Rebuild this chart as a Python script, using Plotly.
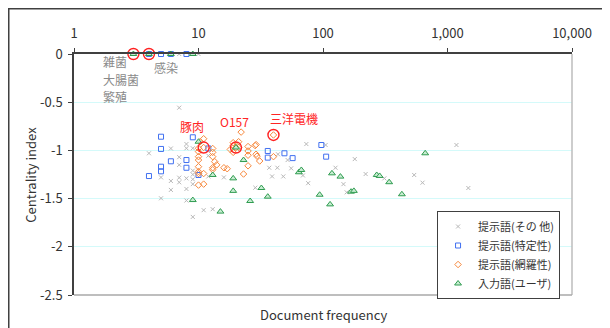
import math
import plotly.graph_objects as go

# ---- data ----
other_x = [7, 10, 7, 4, 6, 8, 8, 9, 7, 7, 6, 6, 7, 7, 8, 8, 9, 9, 9, 9, 5, 5, 8, 9, 11, 13,
           12, 12, 16, 37, 43, 39, 48, 28.6, 43.5, 52, 73.5, 105, 180, 55.5, 69, 76, 126,
           146, 155, 220, 311, 1180, 540, 630, 1470]
other_y = [0, 0, -0.557, -1.03, -0.98, -0.934, -0.978, -0.978, -1.07, -1.15, -1.317, -1.41,
           -1.283, -1.331, -1.29, -1.40, -1.25, -1.30, -1.21, -1.35, -1.28, -1.497, -1.52,
           -1.69, -1.62, -1.61, -1.055, -1.27, -1.28, -1.18, -1.18, -1.27, -1.27, -1.387,
           -1.04, -1.10, -0.934, -0.944, -1.09, -1.186, -1.26, -1.34, -1.18, -1.35, -1.435,
           -1.245, -1.29, -0.944, -1.255, -1.335, -1.39]

spec_x = [4, 5, 6, 8, 5, 9, 5, 6, 5, 5, 4, 8, 8, 10, 12, 36, 36, 49, 57, 97, 106]
spec_y = [0, 0, 0, 0, -0.858, -0.864, -0.985, -1.113, -1.169, -1.217, -1.266, -1.10, -1.18,
          -1.255, -0.98, -1.006, -1.075, -1.03, -1.08, -0.944, -1.065]

cover_x = [11, 10.3, 10, 10, 10, 10, 10, 10, 10, 10, 11, 11, 13, 13, 13, 13.5, 14, 13, 13,
           16, 17, 19, 19, 19, 18, 21, 21, 22, 25, 25, 25, 29, 28.5, 29, 29.5, 31, 23, 25,
           40, 40, 11, 20]
cover_y = [-0.879, -0.91, -0.978, -1.013, -1.065, -1.10, -1.169, -1.22, -1.24, -1.36, -1.35,
           -1.24, -0.98, -1.02, -1.065, -1.117, -1.15, -1.18, -1.20, -1.18, -1.19, -0.92,
           -0.95, -1.02, -0.99, -0.91, -0.97, -0.81, -0.96, -1.006, -1.05, -0.94, -0.95,
           -1.04, -1.06, -1.11, -1.245, -1.16, -1.065, -0.84, -0.97, -0.97]

user_x = [3, 4, 6, 9, 10, 20, 23, 13, 19, 19, 26, 32, 36, 15, 9, 64, 67, 118, 138, 168, 177,
          270, 285, 94, 114, 340, 430, 662]
user_y = [0, 0, 0, 0, -0.91, -0.97, -1.10, -1.255, -1.29, -1.42, -1.525, -1.39, -1.48,
          -1.635, -1.515, -1.227, -1.203, -1.238, -1.272, -1.428, -1.42, -1.255, -1.265,
          -1.46, -1.56, -1.33, -1.455, -1.03]

circle_x = [3, 4, 11, 20, 40]
circle_y = [0, 0, -0.97, -0.97, -0.84]

gray_labels = ["雑菌", "大腸菌", "繁殖", "感染"]
gray_label_x = [1.65, 1.65, 1.65, 4.2]
gray_label_y = [-0.073, -0.26, -0.436, -0.135]

red_labels = ["豚肉", "O157", "三洋電機"]
red_label_x = [8.9, 19.5, 58]
red_label_y = [-0.747, -0.705, -0.674]

x_tickvals = [1, 10, 100, 1000, 10000]
x_ticktext = ["1", "10", "100", "1,000", "10,000"]
y_tickvals = [0, -0.5, -1, -1.5, -2, -2.5]
y_ticktext = ["0", "-0.5", "-1", "-1.5", "-2", "-2.5"]

series_names = ["提示語(その 他)", "提示語(特定性)", "提示語(網羅性)", "入力語(ユーザ)"]

FONT = "Noto Sans CJK JP, Noto Sans, sans-serif"

fig = go.Figure()
fig.add_trace(go.Scatter(x=other_x, y=other_y, mode="markers", name=series_names[0],
                         cliponaxis=False,
                         marker=dict(symbol="x-thin-open", size=4, color="#b8b8b8",
                                     line=dict(width=1, color="#b8b8b8"))))
fig.add_trace(go.Scatter(x=spec_x, y=spec_y, mode="markers", name=series_names[1],
                         cliponaxis=False,
                         marker=dict(symbol="square-open", size=5, color="#4070f0",
                                     line=dict(width=1))))
fig.add_trace(go.Scatter(x=cover_x, y=cover_y, mode="markers", name=series_names[2],
                         cliponaxis=False,
                         marker=dict(symbol="diamond-open", size=5, color="#f7883c",
                                     line=dict(width=1))))
fig.add_trace(go.Scatter(x=user_x, y=user_y, mode="markers", name=series_names[3],
                         cliponaxis=False,
                         marker=dict(symbol="triangle-up", size=6, color="#c8ecd2",
                                     line=dict(width=1, color="#2f9c50"))))
fig.add_trace(go.Scatter(x=circle_x, y=circle_y, mode="markers", showlegend=False,
                         cliponaxis=False,
                         marker=dict(symbol="circle-open", size=11, color="#ff2020",
                                     line=dict(width=1.4))))

for t, x, y in zip(gray_labels, gray_label_x, gray_label_y):
    fig.add_annotation(x=math.log10(x), y=y, text=t, showarrow=False, xanchor="left",
                       font=dict(size=12, color="#8a8a8a", family=FONT))
for t, x, y in zip(red_labels, red_label_x, red_label_y):
    fig.add_annotation(x=math.log10(x), y=y, text=t, showarrow=False, xanchor="center",
                       font=dict(size=12, color="#ff2424", family=FONT))

fig.add_annotation(xref="paper", yref="paper", x=-0.088, y=0.5, text="Centrality index",
                   textangle=-90, showarrow=False, xanchor="center", yanchor="middle",
                   font=dict(size=13, color="#333", family=FONT))
fig.add_annotation(xref="paper", yref="paper", x=0.5, y=-0.079, text="Document frequency",
                   showarrow=False, xanchor="center", yanchor="middle",
                   font=dict(size=13, color="#333", family=FONT))

# borders
fig.add_shape(type="line", xref="paper", yref="paper", x0=1, x1=1, y0=0, y1=1,
              line=dict(color="#bdbdbd", width=1.5))
fig.add_shape(type="line", xref="paper", yref="paper", x0=0, x1=1, y0=0, y1=0,
              line=dict(color="#a8a8a8", width=1.5))
fig.add_shape(type="rect", xref="paper", yref="paper", x0=-0.131, x1=1.2, y0=-0.3, y1=1.1877,
              line=dict(color="#404040", width=1.5), layer="below")

fig.update_xaxes(type="log", range=[0, 4], side="top", tickvals=x_tickvals,
                 ticktext=x_ticktext, ticks="outside", ticklen=4, tickcolor="#404040",
                 showline=True, linecolor="#404040", linewidth=1.5, showgrid=False,
                 zeroline=False, automargin=False, ticklabelstandoff=5,
                 tickfont=dict(size=13, color="#333", family=FONT))
fig.update_yaxes(range=[-2.5, 0], tickvals=y_tickvals, ticktext=y_ticktext, ticks="outside",
                 ticklen=4, tickcolor="#404040", showline=True, linecolor="#404040",
                 linewidth=1.5, showgrid=True, gridcolor="#d4fafa", gridwidth=1,
                 zeroline=False, automargin=False, ticklabelstandoff=3,
                 tickfont=dict(size=13, color="#333", family=FONT))

fig.update_layout(
    width=610, height=328,
    margin=dict(l=66, r=46, t=46, b=41, autoexpand=False),
    paper_bgcolor="white", plot_bgcolor="white",
    font=dict(family=FONT, color="#333"),
    legend=dict(x=0.976, y=0.3485, xanchor="right", yanchor="top",
                bgcolor="white", bordercolor="#404040", borderwidth=1,
                font=dict(size=11, color="#333", family=FONT),
                itemwidth=30, tracegroupgap=0),
)

fig.write_html("out.html")
